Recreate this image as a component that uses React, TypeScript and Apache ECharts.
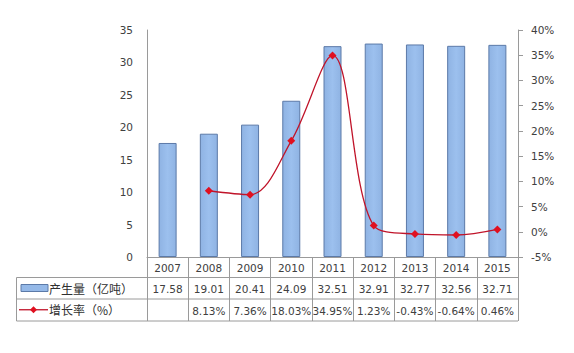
import React, { useEffect, useRef } from "react";
import * as echarts from "echarts";

const years = ["2007", "2008", "2009", "2010", "2011", "2012", "2013", "2014", "2015"];
const output = [17.58, 19.01, 20.41, 24.09, 32.51, 32.91, 32.77, 32.56, 32.71];
const growth: (number | null)[] = [null, 8.13, 7.36, 18.03, 34.95, 1.23, -0.43, -0.64, 0.46];
const barName = "产生量（亿吨）";
const lineName = "增长率（%）";

const FONT = "DejaVu Sans";
const TXT = "#404040";
const GRID_L = 147;
const GRID_R = 518;
const AXIS_Y = 257;
const ROW_H = 21.5;

export default function App() {
  const ref = useRef<HTMLDivElement>(null);
  useEffect(() => {
    const chart = echarts.init(ref.current!, null, { renderer: "svg" });
    const rowTop1 = AXIS_Y + ROW_H - 1;
    const rowTop2 = rowTop1 + ROW_H;
    const rowBot = rowTop2 + ROW_H + 0.5;
    const border = { stroke: "#9a9a9a", lineWidth: 1 };
    chart.setOption({
      animation: false,
      grid: { left: GRID_L, right: 574 - GRID_R, top: 30, bottom: 353 - AXIS_Y },
      xAxis: {
        type: "category",
        data: years,
        boundaryGap: true,
        axisLine: { lineStyle: { color: "#9a9a9a" } },
        axisTick: { show: true, length: rowBot - AXIS_Y, lineStyle: { color: "#9a9a9a" } },
        axisLabel: {
          interval: 0,
          margin: 0,
          verticalAlign: "top",
          fontFamily: FONT,
          fontSize: 10.5,
          color: TXT,
          lineHeight: ROW_H,
          formatter: (v: string, i: number) => {
            const g = growth[i];
            return v + "\n" + output[i].toFixed(2) + "\n" + (g === null ? " " : g.toFixed(2) + "%");
          },
        },
      },
      yAxis: [
        {
          type: "value",
          min: 0,
          max: 35,
          interval: 5,
          axisLine: { show: true, lineStyle: { color: "#9a9a9a" } },
          axisTick: { show: false },
          splitLine: { show: false },
          axisLabel: { fontFamily: FONT, fontSize: 10.5, color: TXT, margin: 14 },
        },
        {
          type: "value",
          min: -5,
          max: 40,
          interval: 5,
          position: "right",
          axisLine: { show: true, lineStyle: { color: "#9a9a9a" } },
          axisTick: { show: true, inside: false, length: 5, lineStyle: { color: "#9a9a9a" } },
          splitLine: { show: false },
          axisLabel: { fontFamily: FONT, fontSize: 10.5, color: TXT, margin: 13, formatter: "{value}%" },
        },
      ],
      series: [
        {
          name: barName,
          type: "bar",
          data: output,
          barWidth: 18,
          itemStyle: {
            color: new echarts.graphic.LinearGradient(0, 0, 1, 0, [
              { offset: 0, color: "#8fb3e3" },
              { offset: 0.5, color: "#9cc0ee" },
              { offset: 1, color: "#8fb3e3" },
            ]),
            borderColor: "#5c7aa8",
            borderWidth: 1,
          },
        },
        {
          name: lineName,
          type: "line",
          yAxisIndex: 1,
          data: growth,
          smooth: 0.35,
          connectNulls: false,
          symbol: "diamond",
          symbolSize: 8,
          lineStyle: { color: "#c0142a", width: 1.3 },
          itemStyle: { color: "#e01020" },
        },
      ],
      graphic: [
        { type: "line", shape: { x1: 16.5, y1: rowTop1, x2: GRID_R, y2: rowTop1 }, style: border },
        { type: "line", shape: { x1: 16.5, y1: rowTop2, x2: GRID_R, y2: rowTop2 }, style: border },
        { type: "line", shape: { x1: 16.5, y1: rowBot, x2: GRID_R, y2: rowBot }, style: border },
        { type: "line", shape: { x1: 16.5, y1: rowTop1, x2: 16.5, y2: rowBot }, style: border },
        {
          type: "rect",
          shape: { x: 21, y: rowTop1 + 7, width: 27, height: 7 },
          style: { fill: "#95b9e8", stroke: "#5c7aa8", lineWidth: 1 },
        },
        {
          type: "text",
          x: 49,
          y: rowTop1 + ROW_H / 2,
          style: { text: barName, fontFamily: "Noto Sans CJK SC", fontSize: 12, fill: "#303030", verticalAlign: "middle" },
        },
        { type: "line", shape: { x1: 19, y1: rowTop2 + ROW_H / 2, x2: 48, y2: rowTop2 + ROW_H / 2 }, style: { stroke: "#c0142a", lineWidth: 1.3 } },
        {
          type: "polygon",
          shape: {
            points: [
              [33.5, rowTop2 + ROW_H / 2 - 3.5],
              [37, rowTop2 + ROW_H / 2],
              [33.5, rowTop2 + ROW_H / 2 + 3.5],
              [30, rowTop2 + ROW_H / 2],
            ],
          },
          style: { fill: "#e01020" },
        },
        {
          type: "text",
          x: 49,
          y: rowTop2 + ROW_H / 2,
          style: { text: lineName, fontFamily: "Noto Sans CJK SC", fontSize: 12, fill: "#303030", verticalAlign: "middle" },
        },
      ],
    });
    return () => chart.dispose();
  }, []);
  return <div ref={ref} style={{ width: 574, height: 353, position: "absolute", left: 0, top: 0 }} />;
}
